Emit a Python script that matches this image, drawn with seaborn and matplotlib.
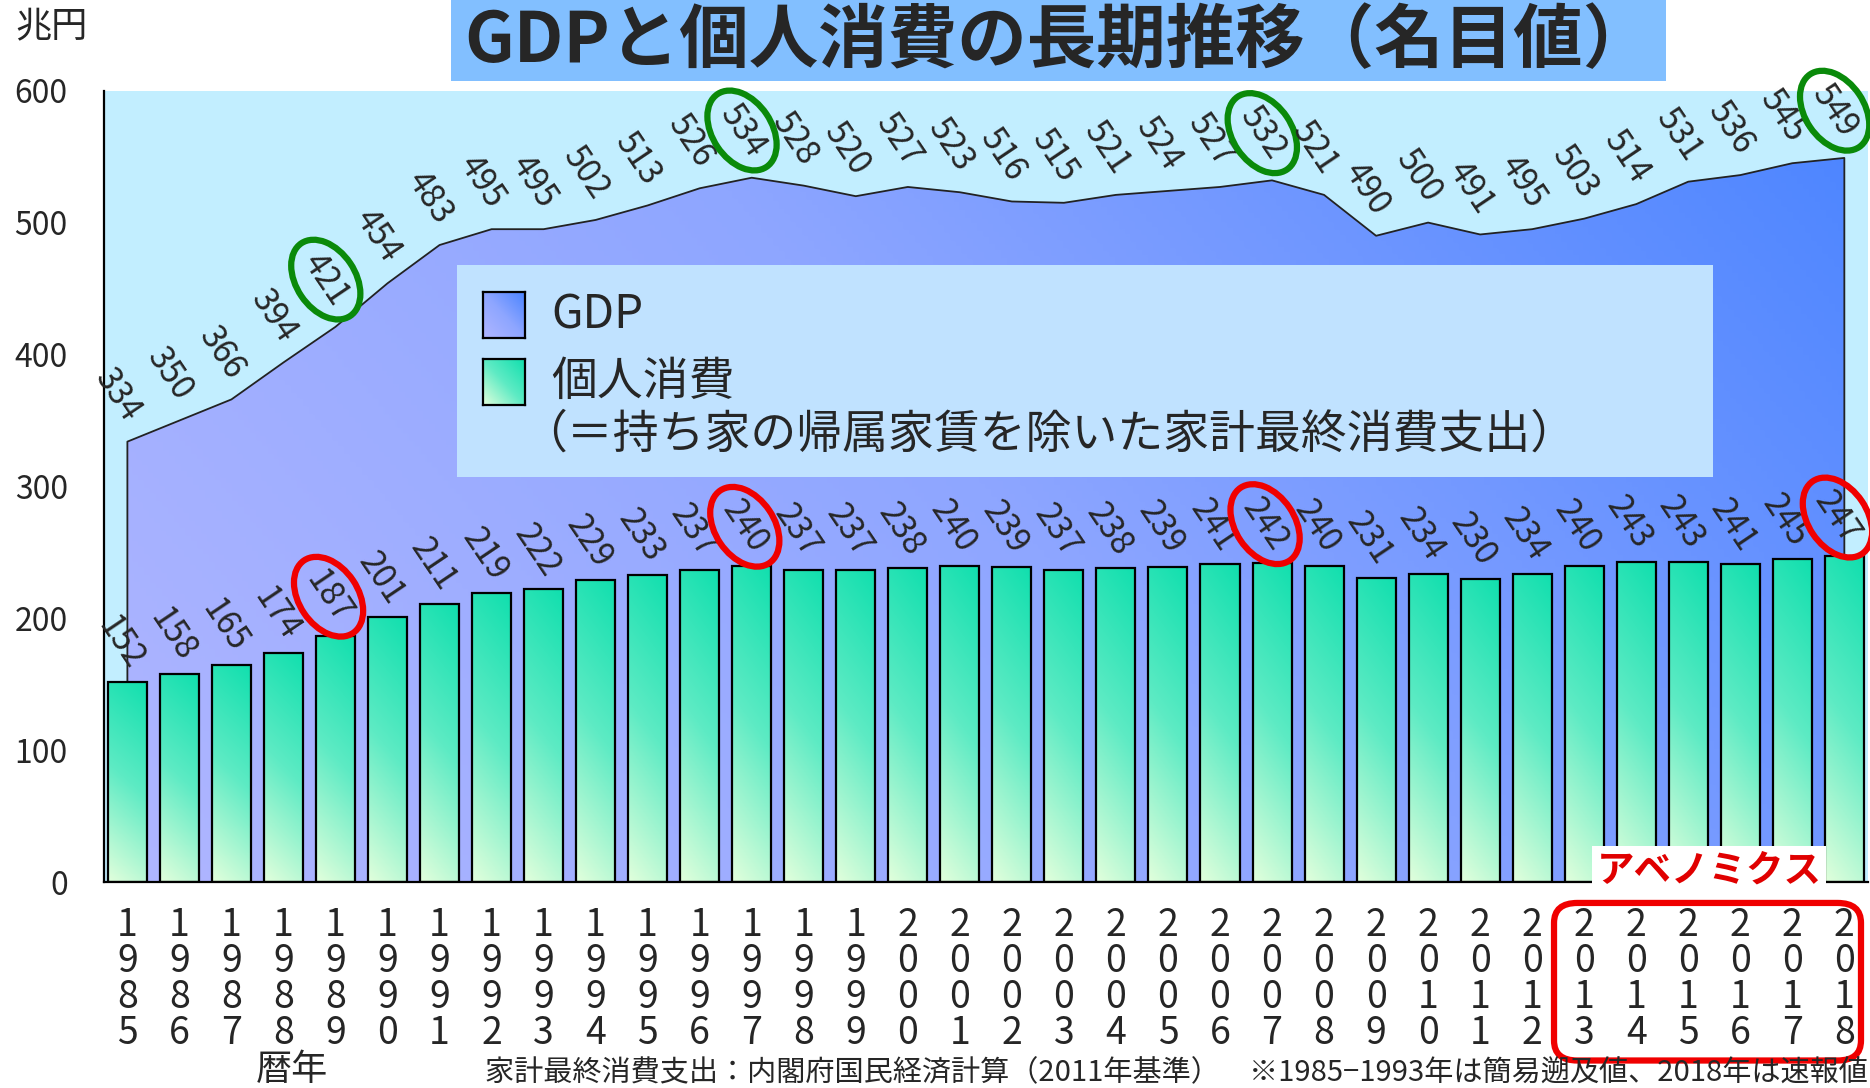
import numpy as np
import seaborn as sns
import matplotlib.pyplot as plt
from matplotlib import colors
from matplotlib.patches import Rectangle, FancyBboxPatch

sns.set_theme(style="white")
plt.rcParams['font.family'] = ['Noto Sans CJK JP', 'DejaVu Sans']

# data (兆円)
years = list(range(1985, 2019))
gdp = [334, 350, 366, 394, 421, 454, 483, 495, 495, 502, 513, 526, 534, 528, 520,
       527, 523, 516, 515, 521, 524, 527, 532, 521, 490, 500, 491, 495, 503, 514,
       531, 536, 545, 549]
consumption = [152, 158, 165, 174, 187, 201, 211, 219, 222, 229, 233, 237, 240, 237,
               237, 238, 240, 239, 237, 238, 239, 241, 242, 240, 231, 234, 230, 234,
               240, 243, 243, 241, 245, 247]
highlight_years = [1989, 1997, 2007, 2018]
abenomics_years = [2013, 2014, 2015, 2016, 2017, 2018]
yticks = [0, 100, 200, 300, 400, 500, 600]

title = "GDPと個人消費の長期推移（名目値）"
legend_labels = ["GDP", "個人消費", "（＝持ち家の帰属家賃を除いた家計最終消費支出）"]
footnote = "家計最終消費支出：内閣府国民経済計算（2011年基準）　※1985−1993年は簡易遡及値、2018年は速報値"

gdp_cmap = colors.LinearSegmentedColormap.from_list("gdp", ["#B0B6FF", "#8EA6FF", "#4A84FF"])
bar_cmap = colors.LinearSegmentedColormap.from_list("bar", ["#10DFAE", "#5EEBC4", "#E2FFDC"])

fig = plt.figure(figsize=(18.7, 10.88), dpi=100)
ax = fig.add_axes([0.0556, 0.189, 0.9432, 0.7277])
ax.set_facecolor("#C2EEFF")

x = np.arange(len(years))

# bars
sns.barplot(x=years, y=consumption, color="#40E6BC", saturation=1, width=0.75,
            edgecolor="black", linewidth=1.6, ax=ax, zorder=3)
bars = list(ax.patches)

# GDP area with gradient
area = ax.fill_between(x, gdp, 0, facecolor="none", edgecolor="#222222", lw=1.3, zorder=1)
xx, yy = np.meshgrid(np.linspace(0, 1, 300), np.linspace(0, 1, 300))
im = ax.imshow(0.72 * xx + 0.28 * yy, extent=[-0.5, len(years) - 0.5, 0, 600],
               origin="lower", cmap=gdp_cmap, aspect="auto", zorder=0.8)
im.set_clip_path(area.get_paths()[0], transform=ax.transData)

# bar gradients
for p in bars:
    bx, by, bw, bh = p.get_x(), p.get_y(), p.get_width(), p.get_height()
    g = 0.85 * (1 - yy) + 0.15 * (1 - xx)
    bim = ax.imshow(g, extent=[bx, bx + bw, by, by + bh], origin="lower", cmap=bar_cmap,
                    aspect="auto", zorder=2.5)
    bim.set_clip_path(p)
    p.set_facecolor("none")
    p.set_zorder(3)

ax.set_xlim(-0.45, len(years) - 0.55)
ax.set_ylim(0, 600)

# value labels
for i, v in enumerate(gdp):
    bb = None
    if years[i] in highlight_years:
        bb = dict(boxstyle="ellipse,pad=0.1", fc="none", ec="#0A8A0A", lw=4.5)
    ax.annotate(str(v), (i, v), xytext=(-7, 34), textcoords="offset points",
                rotation=-56, rotation_mode="anchor", ha="center", va="center",
                fontsize=24, zorder=6, bbox=bb, annotation_clip=False)
for i, v in enumerate(consumption):
    bb = None
    if years[i] in highlight_years:
        bb = dict(boxstyle="ellipse,pad=0.1", fc="none", ec="#F00000", lw=4.5)
    ax.annotate(str(v), (i, v), xytext=(-5, 28), textcoords="offset points",
                rotation=-56, rotation_mode="anchor", ha="center", va="center",
                fontsize=24, zorder=6, bbox=bb, annotation_clip=False)

# axes styling
for s in ["top", "right"]:
    ax.spines[s].set_visible(False)
for s in ["left", "bottom"]:
    ax.spines[s].set_color("black")
    ax.spines[s].set_linewidth(1.6)
    ax.spines[s].set_zorder(4)
ax.set_yticks(yticks)
ax.set_yticklabels([str(t) for t in yticks], fontsize=23)
ax.tick_params(axis="y", direction="in", length=14, width=1.6, color="black", pad=26)
ax.set_xticks(x)
ax.set_xticklabels(["\n".join(str(y)) for y in years], fontsize=27, linespacing=0.9)
ax.tick_params(axis="x", length=0, pad=17)
ax.set_xlabel("")
ax.set_ylabel("")
ax.grid(False)

# title box
fig.patches.append(Rectangle((0.241, 0.9256), 0.65, 0.0744, transform=fig.transFigure,
                             facecolor="#82BFFF", edgecolor="none", zorder=0))
fig.text(0.566, 0.962, title, ha="center", va="center", fontsize=50, fontweight="bold")
fig.text(0.008, 0.975, "兆円", ha="left", va="center", fontsize=26)
fig.text(0.156, 0.017, "暦年", ha="center", va="center", fontsize=26)
fig.text(0.999, 0.014, footnote, ha="right", va="center", fontsize=21)

# legend box
fig.patches.append(Rectangle((457 / 1870, 1 - 477 / 1088), (1713 - 457) / 1870, (477 - 265) / 1088,
                             transform=fig.transFigure, facecolor="#C0E2FF", edgecolor="none", zorder=5))
for k, cm in enumerate([gdp_cmap, bar_cmap]):
    y0 = [338, 405][k]
    lax = fig.add_axes([483 / 1870, 1 - y0 / 1088, 42 / 1870, 46 / 1088], zorder=6)
    g = 0.5 * xx + 0.5 * yy if k == 0 else 0.5 * (1 - xx) + 0.5 * (1 - yy)
    lax.imshow(g, origin="lower", cmap=cm, aspect="auto")
    lax.set_xticks([])
    lax.set_yticks([])
    for s in lax.spines.values():
        s.set_color("black")
        s.set_linewidth(1.6)
fig.text(551 / 1870, 1 - 315 / 1088, legend_labels[0], ha="left", va="center", fontsize=33, zorder=7)
fig.text(551 / 1870, 1 - 382 / 1088, legend_labels[1], ha="left", va="center", fontsize=33, zorder=7)
fig.text(521 / 1870, 1 - 434 / 1088, legend_labels[2], ha="left", va="center", fontsize=33, zorder=7)

# Abenomics marking
i0 = years.index(abenomics_years[0])
i1 = years.index(abenomics_years[-1])
rect = FancyBboxPatch((i0 - 0.58, -0.225), (i1 - i0) + 0.9, 0.199,
                      boxstyle="round,pad=0,rounding_size=0.45", mutation_aspect=0.056,
                      transform=ax.get_xaxis_transform(), facecolor="none",
                      edgecolor="#F00000", lw=4.5, clip_on=False, zorder=7)
ax.add_patch(rect)
ax.text((i0 + i1) / 2 - 0.1, 0.016, "アベノミクス", transform=ax.get_xaxis_transform(),
        ha="center", va="center", fontsize=27, fontweight="bold", color="#E00000",
        bbox=dict(boxstyle="square,pad=0.12", fc="white", ec="none"), zorder=8, clip_on=False)

fig.savefig("out.png", dpi=100)
